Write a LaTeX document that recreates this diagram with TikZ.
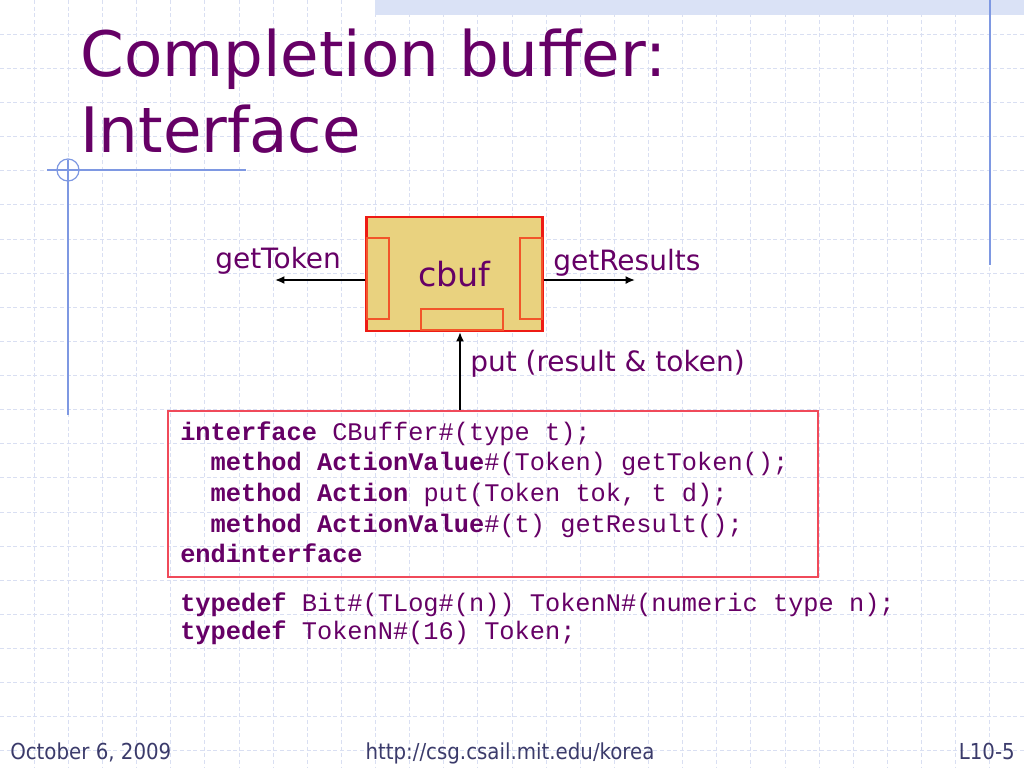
\documentclass[tikz,border=0pt]{standalone}
\usepackage{fontspec}
\usepackage{tikz}
\usepackage{xcolor}
\setmainfont{DejaVu Sans}
\setmonofont{Liberation Mono}
\newfontfamily\footfont{DejaVu Sans Condensed}
\usetikzlibrary{arrows.meta,positioning}
\definecolor{slidepurple}{HTML}{660066}
\definecolor{gridblue}{HTML}{D9DFF2}
\definecolor{rulerblue}{HTML}{7E98E2}
\definecolor{bandblue}{HTML}{DAE2F6}
\definecolor{cbuffill}{HTML}{E9D27F}
\definecolor{cbufred}{HTML}{EE1B14}
\definecolor{portred}{HTML}{F2552A}
\definecolor{codered}{HTML}{F04A5A}
\definecolor{footgray}{HTML}{3B3B6B}
\tikzset{
    gridline/.style={draw=gridblue,densely dashed,line width=0.6pt},
    ruler/.style={draw=rulerblue,line width=0.9pt},
    label/.style={text=slidepurple,font=\fontsize{21}{24}\selectfont,inner sep=0pt},
    port/.style={draw=portred,line width=0.8pt},
    link/.style={-{Latex[length=7pt,width=6pt]},line width=1.3pt},
    code/.style={text=slidepurple,font=\ttfamily\fontsize{19}{23}\selectfont,align=left,inner sep=0pt},
    foot/.style={text=footgray,font=\footfont\fontsize{16.5}{19}\selectfont,inner sep=0pt}
}

\begin{document}
\begin{tikzpicture}[x=0.75pt,y=-0.75pt]
    \useasboundingbox (0,0) rectangle (1024,768);
    \fill[white] (0,0) rectangle (1024,768);
    % background grid
    \foreach \k in {1,...,29}
    {
        \draw[gridline] (34.13*\k,0)--(34.13*\k,768);
    }
    \foreach \k in {1,...,22}
    {
        \draw[gridline] (0,34.13*\k)--(1024,34.13*\k);
    }
    \fill[bandblue] (375,0) rectangle (1024,15);
    \draw[ruler] (990,0)--(990,265);
    \draw[ruler] (47,170)--(246,170);
    \draw[ruler] (68,160)--(68,415);
    \draw[ruler] (68,170) circle[radius=8.25pt];

    % title
    \node[anchor=base west,text=slidepurple,font=\fontsize{47}{57}\selectfont,inner sep=0pt] (title1) at (80,76) {Completion buffer:};
    \node[anchor=base west,text=slidepurple,font=\fontsize{47}{57}\selectfont,inner sep=0pt] (title2) at (80,152) {Interface};

    % the cbuf module
    \node[draw=cbufred,fill=cbuffill,line width=1.6pt,minimum width=132pt,minimum height=85.5pt,
          text=slidepurple,font=\fontsize{25}{30}\selectfont] (cbuf) at (454.5,274) {cbuf};
    \draw[port] (367,238) rectangle (389,319);
    \draw[port] (520,238) rectangle (542,319);
    \draw[port] (421,309) rectangle (503,330);

    \coordinate (tokEnd) at (275,280);
    \coordinate (resEnd) at (635,280);
    \coordinate (putStart) at (460,410);
    \draw[link] (cbuf.west |- tokEnd)--(tokEnd);
    \draw[link] (cbuf.east |- resEnd)--(resEnd);
    \draw[link] (putStart)--(putStart |- cbuf.south);
    \node[label,anchor=base west] (getToken) at (215,268) {getToken};
    \node[label,anchor=base west] (getResults) at (553,270) {getResults};
    \node[label,anchor=base west] (put) at (470,371) {put (result \& token)};

    % interface code
    \draw[draw=codered,line width=0.9pt] (168,411) rectangle (818,577);
    \node[code,anchor=north west] (iface) at (180,421)
        {\textbf{interface} CBuffer\#(type t);\\
         ~~\textbf{method ActionValue}\#(Token) getToken();\\
         ~~\textbf{method Action} put(Token tok, t d);\\
         ~~\textbf{method ActionValue}\#(t) getResult();\\
         \textbf{endinterface}};
    \node[code,anchor=north west,font=\ttfamily\fontsize{19}{21}\selectfont] (typedefs) at (180,592)
        {\textbf{typedef} Bit\#(TLog\#(n)) TokenN\#(numeric type n);\\
         \textbf{typedef} TokenN\#(16) Token;};

    % footer
    \node[foot,anchor=base west] (date) at (10,759) {October 6, 2009};
    \node[foot,anchor=base] (url) at (510,759) {http://csg.csail.mit.edu/korea};
    \node[foot,anchor=base east] (slideno) at (1015,759) {L10-5};
\end{tikzpicture}
\end{document}
